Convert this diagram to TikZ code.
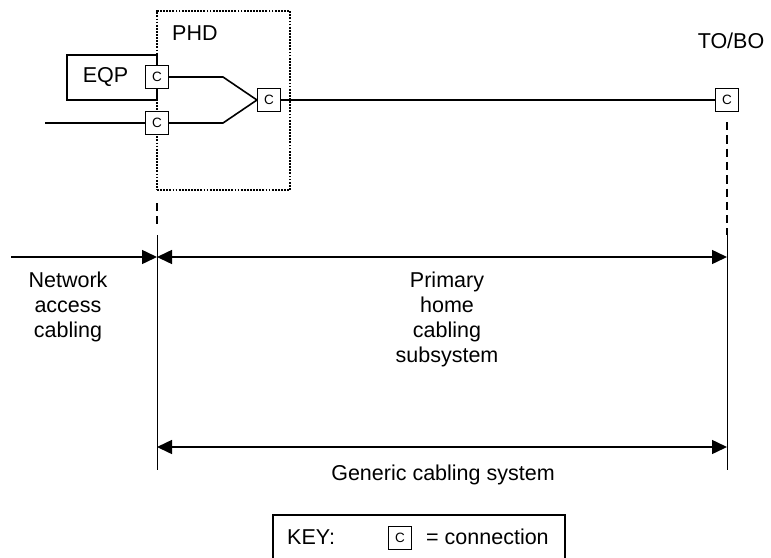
\documentclass[tikz,border=0pt]{standalone}
\usepackage{fontspec}
\setmainfont{Liberation Sans}
\usetikzlibrary{arrows.meta}
\begin{document}
\begin{tikzpicture}[x=1pt,y=-1pt,
  lbl/.style={inner sep=0pt, font=\fontsize{21.5}{25}\selectfont},
  cbox/.style={draw, line width=1.1pt, fill=white, minimum size=23pt, inner sep=0pt,
    font=\fontsize{13.5}{13.5}\selectfont},
  wire/.style={line width=1.6pt},
  frame/.style={draw, line width=1.6pt, inner sep=0pt},
  phdframe/.style={draw, line width=1.7pt, dash pattern=on 1.8pt off 1.3pt, inner sep=0pt},
  guide/.style={line width=1.8pt, dash pattern=on 8.3pt off 5pt},
  limit/.style={line width=1pt},
  tip/.tip={Triangle[length=15pt,width=14pt]},
  dim/.style={line width=1.5pt, -tip},
  dimboth/.style={line width=1.5pt, tip-tip},
]
\useasboundingbox (0,0) rectangle (771,557);
\clip (0,0) rectangle (771,557);

% primary home distributor boundary and equipment
\node[phdframe, minimum width=133pt, minimum height=179pt] (phd) at (223.5,100.5) {};
\node[lbl, anchor=base west] (phdlbl) at (172,40) {PHD};
\node[frame, minimum width=90pt, minimum height=45pt,
  label={[lbl, xshift=-6.5pt]center:EQP}] (eqp) at (112,77.5) {};

% connections
\node[cbox] (c1) at (157,77) {C};
\node[cbox] (c2) at (157,123) {C};
\node[cbox] (c3) at (269,100) {C};
\node[cbox] (c4) at (727,100) {C};
\node[lbl, anchor=base] (tobo) at (731,48) {TO/BO};

% cabling
\coordinate (feed) at (45,123);
\coordinate (b1) at (223,77);
\coordinate (b2) at (223,123);
\draw[wire] (feed) -- (c2.west);
\draw[wire] (c1.east) -- (b1) -- (c3.west);
\draw[wire] (c2.east) -- (b2) -- (c3.west);
\draw[wire] (c3.east) -- (c4.west);

% interface lines
\coordinate (ltop) at (157,203);
\coordinate (lmid) at (157,224);
\coordinate (lsolid) at (157,235);
\coordinate (lbot) at (157,470);
\coordinate (rtop) at (727,122);
\coordinate (rsolid) at (727,235);
\coordinate (rbot) at (727,470);
\draw[guide] (ltop) -- (lmid);
\draw[guide] (rtop) -- (rsolid);
\draw[limit] (lsolid) -- (lbot);
\draw[limit] (rsolid) -- (rbot);

% extents
\coordinate (nstart) at (11,257);
\coordinate (la) at (157,257);
\coordinate (ra) at (727,257);
\coordinate (lb) at (157,447);
\coordinate (rb) at (727,447);
\draw[dim] (nstart) -- (la);
\draw[dimboth] (la) -- (ra);
\draw[dimboth] (lb) -- (rb);

\node[lbl, align=center, anchor=north] (nac) at (68,271.5) {Network\\access\\cabling};
\node[lbl, align=center, anchor=north] (phc) at (447,271.5) {Primary\\home\\cabling\\subsystem};
\node[lbl, anchor=base] (gcs) at (443,480) {Generic cabling system};

% key
\node[frame, minimum width=292pt, minimum height=44pt] (key) at (419,537) {};
\node[lbl, anchor=base west] (keylbl) at (287,544) {KEY:};
\node[cbox] (ckey) at (400,538) {C};
\node[lbl, anchor=base west] (keytxt) at (426,544) {= connection};
\end{tikzpicture}
\end{document}
